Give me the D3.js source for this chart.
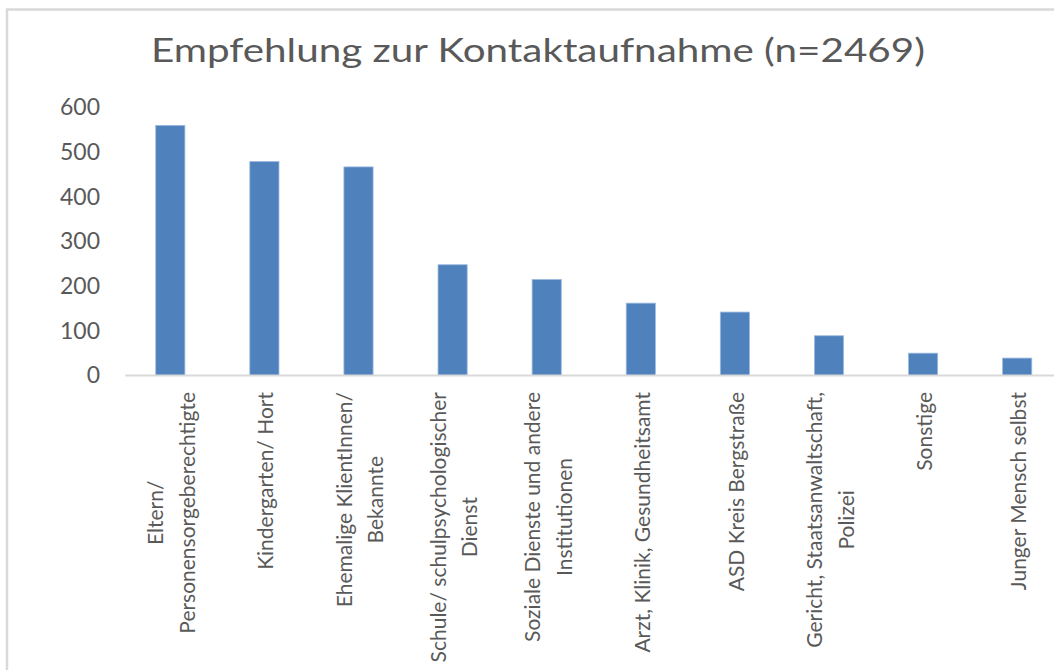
<!DOCTYPE html>
<html>
<head>
<meta charset="utf-8">
<script src="https://cdn.jsdelivr.net/npm/d3@7"></script>
<style>
  body { margin: 0; background: #fff; }
  text { font-family: Lato, "Open Sans", sans-serif; fill: #595959; }
</style>
</head>
<body>
<div class="chart"></div>
<script>
const FRAME_WIDTH = 1054;
const FRAME_HEIGHT = 670;

const TITLE = "Empfehlung zur Kontaktaufnahme (n=2469)";
const CATEGORIES = ["Eltern", "Kindergarten", "Ehemalige", "Schule", "Soziale",
                    "Arzt", "ASD", "Gericht", "Sonstige", "Junger"];
const LABEL_LINES = [["Eltern/", "Personensorgeberechtigte"],
                     ["Kindergarten/ Hort"],
                     ["Ehemalige KlientInnen/", "Bekannte"],
                     ["Schule/ schulpsychologischer", "Dienst"],
                     ["Soziale Dienste und andere", "Institutionen"],
                     ["Arzt, Klinik, Gesundheitsamt"],
                     ["ASD Kreis Bergstraße"],
                     ["Gericht, Staatsanwaltschaft,", "Polizei"],
                     ["Sonstige"],
                     ["Junger Mensch selbst"]];
const VALUES = [560, 479, 467, 248, 215, 162, 142, 89, 50, 39];
const Y_TICKS = [0, 100, 200, 300, 400, 500, 600];

const SVG = d3.select(".chart")
              .append("svg")
              .attr("width", FRAME_WIDTH)
              .attr("height", FRAME_HEIGHT);

// chart area border (only top and left visible, rest is cropped)
SVG.append("rect")
    .attr("x", 7)
    .attr("y", 9.5)
    .attr("width", 1200)
    .attr("height", 800)
    .attr("fill", "#fff")
    .attr("stroke", "#d9d9d9")
    .attr("stroke-width", 2.5);

SVG.append("text")
    .attr("x", 538)
    .attr("y", 62)
    .attr("text-anchor", "middle")
    .attr("font-size", "33.5px")
    .attr("textLength", 774)
    .attr("lengthAdjust", "spacingAndGlyphs")
    .text(TITLE);

const X_SCALE = d3.scaleBand()
                  .domain(CATEGORIES)
                  .range([123.25, 1064.25])
                  .paddingInner(0.69)
                  .paddingOuter(0.345);

const Y_SCALE = d3.scaleLinear()
                  .domain([0, 600])
                  .range([375.5, 107.5]);

// y tick labels
const Y_AXIS = SVG.append("g")
    .attr("transform", "translate(100,0)")
    .call(d3.axisLeft(Y_SCALE).tickValues(Y_TICKS).tickSize(0).tickPadding(0));
Y_AXIS.select(".domain").remove();
Y_AXIS.selectAll("text")
    .attr("font-size", "23px")
    .attr("font-family", "Lato, sans-serif")
    .attr("fill", "#595959");

// bars
SVG.selectAll(".bar")
    .data(VALUES)
    .enter()
    .append("rect")
      .attr("class", "bar")
      .attr("x", (d, i) => X_SCALE(CATEGORIES[i]))
      .attr("y", (d) => Y_SCALE(d))
      .attr("width", X_SCALE.bandwidth())
      .attr("height", (d) => Y_SCALE(0) - Y_SCALE(d))
      .attr("fill", "#4f81bd")
      .attr("stroke", "#9dbbe0")
      .attr("stroke-width", 0.8);

// category axis line
SVG.append("line")
    .attr("x1", X_SCALE.range()[0] + 2)
    .attr("x2", X_SCALE.range()[1])
    .attr("y1", Y_SCALE(0))
    .attr("y2", Y_SCALE(0))
    .attr("stroke", "#d9d9d9")
    .attr("stroke-width", 2.2);

// rotated category labels, lines centred within a block hanging from the axis
const LINE_GAP = 31.7;
const LABELS = SVG.selectAll(".xlabel")
    .data(LABEL_LINES)
    .enter()
    .append("g")
      .attr("class", "xlabel");

LABELS.each(function(lines, i) {
    const g = d3.select(this);
    const texts = lines.map((t, j) => g.append("text")
        .attr("font-size", "21px")
        .attr("text-anchor", "middle")
        .attr("y", (j - (lines.length - 1) / 2) * LINE_GAP + 9)
        .text(t));
    const maxW = d3.max(texts, (t) => t.node().getComputedTextLength());
    const cx = X_SCALE(CATEGORIES[i]) + X_SCALE.bandwidth() / 2;
    g.attr("transform", "translate(" + cx + "," + (392 + maxW / 2) + ") rotate(-90)");
});
</script>
</body>
</html>
